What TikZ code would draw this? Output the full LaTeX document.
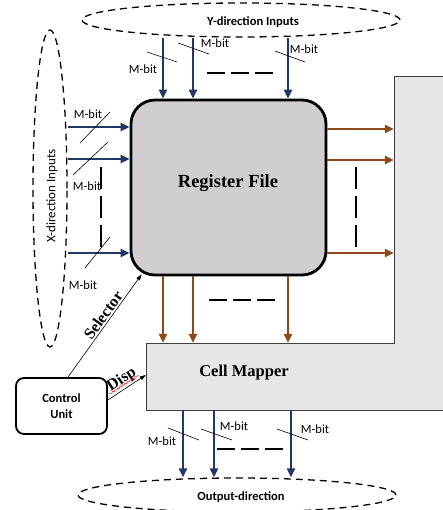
\documentclass[tikz,border=0pt]{standalone}
\usepackage{fontspec}
\setmainfont{Carlito}
\newfontfamily\tnr{Liberation Serif}
\usetikzlibrary{arrows.meta,shapes.geometric,decorations.pathmorphing}
\definecolor{navy}{HTML}{203864}
\definecolor{rust}{HTML}{8E4A1A}
\definecolor{rfgray}{HTML}{D0CECE}
\definecolor{cmgray}{HTML}{E7E6E6}
\definecolor{edgegray}{HTML}{404040}
\begin{document}
\begin{tikzpicture}[x=1pt,y=-1pt,
  barrow/.style={navy, line width=2.6pt, -{Triangle[length=9pt,width=8pt]}},
  brarrow/.style={rust, line width=2.2pt, -{Triangle[length=9pt,width=8pt]}},
  slash/.style={black, line width=0.6pt},
  mbit/.style={font=\fontsize{12.5}{13}\selectfont, inner sep=0pt},
  sepline/.style={line width=2.2pt, dash pattern=on 18pt off 6pt},
  sepvline/.style={line width=2.2pt, dash pattern=on 22pt off 7pt},
  dell/.style={ellipse, draw, line width=1.3pt, dash pattern=on 7pt off 5pt, inner sep=0pt},
  sanslbl/.style={font=\bfseries\fontsize{12.5}{13}\selectfont, inner sep=0pt},
  seriflbl/.style={font=\tnr\bfseries\fontsize{16}{17}\selectfont},
  thinarrow/.style={black, line width=0.6pt, -{Triangle[length=6pt,width=4pt]}}
]
\useasboundingbox (0,0) rectangle (442,510);

% L-shaped panel (right column + Cell Mapper)
\draw[fill=cmgray, draw=edgegray, line width=1pt]
  (448,77) -- (394,77) -- (394,343) -- (146,343) -- (146,410) -- (448,410) -- cycle;
\node[minimum width=302pt, minimum height=67pt, inner sep=0pt] (cm) at (297,376.5) {};
\node[minimum width=54pt, minimum height=266pt, inner sep=0pt] (rp) at (421,210) {};
\node[seriflbl, font=\tnr\bfseries\fontsize{16.5}{17}\selectfont] (cmlbl) at (244,373) {Cell Mapper};

% Register file
\node[draw, line width=2.8pt, fill=rfgray, rounded corners=24pt,
      minimum width=195pt, minimum height=175pt, inner sep=0pt] (rf) at (228.5,187.5) {};
\node[font=\tnr\bfseries\fontsize{18.5}{19}\selectfont] (rflbl) at (228,183) {Register File};

% Dashed ellipses
\node[dell, minimum width=318pt, minimum height=34pt] (yin) at (241,20) {};
\node[sanslbl] (yinlbl) at (253,22) {Y-direction Inputs};
\node[dell, minimum width=34pt, minimum height=317pt] (xin) at (50,188.5) {};
\node[font=\fontsize{13}{13}\selectfont, inner sep=0pt, rotate=90] (xinlbl) at (52,196) {X-direction Inputs};
\node[dell, minimum width=318pt, minimum height=34pt] (out) at (237,495) {};
\node[sanslbl] (outlbl) at (241,497) {Output-direction};

% Control unit
\node[draw, line width=1.8pt, rounded corners=8pt, minimum width=91pt, minimum height=56pt,
      align=center, font=\bfseries\fontsize{12.5}{16}\selectfont] (cu) at (61.5,406) {Control\\Unit};

% Y-direction input arrows
\foreach \x in {163,193,288}
  \draw[barrow] (yin.south -| \x,0) -- (rf.north -| \x,0);
\draw[slash] (147,52) -- (177,62);
\node[mbit] (my1) at (143,69) {M-bit};
\draw[slash] (178,43) -- (209,54);
\node[mbit] (my2) at (215,43) {M-bit};
\draw[slash] (275,51) -- (305,62);
\node[mbit] (my3) at (304,49) {M-bit};
\draw[sepline] (207,73) -- (273,73);

% X-direction input arrows
\foreach \y in {127,159,253}
  \draw[barrow] (xin.east |- 0,\y) -- (rf.west |- 0,\y);
\draw[slash] (80,143) -- (110,112);
\node[mbit] (mx1) at (88,114) {M-bit};
\draw[slash] (73,175) -- (108,142);
\node[mbit] (mx2) at (87,186) {M-bit};
\draw[slash] (85,268) -- (110,237);
\node[mbit] (mx3) at (83,285) {M-bit};
\draw[sepvline] (101,167) -- (101,247);

% Outputs to the right
\foreach \y in {129,160,253}
  \draw[brarrow] (rf.east |- 0,\y) -- (rp.west |- 0,\y);
\draw[sepvline] (356,167) -- (356,247);

% Outputs downward to Cell Mapper
\foreach \x in {163,193,288}
  \draw[brarrow] (rf.south -| \x,0) -- (cm.north -| \x,0);
\draw[sepline] (209,300) -- (275,300);

% Cell Mapper outputs
\foreach \x in {183,214,291}
  \draw[barrow] (cm.south -| \x,0) -- (out.north -| \x,0);
\draw[slash] (168,428) -- (199,440);
\node[mbit] (mo1) at (162,441) {M-bit};
\draw[slash] (201,429) -- (232,440);
\node[mbit] (mo2) at (234,426) {M-bit};
\draw[slash] (277,429) -- (308,440);
\node[mbit] (mo3) at (315,429) {M-bit};
\draw[sepline] (217,449) -- (283,449);

% Control signals
\draw[thinarrow] (cu.north -| 68,0) -- ([shift={(12,-2)}]rf.south west)
  node[seriflbl, pos=0.56, sloped, above, inner sep=1.5pt] (sellbl) {Selector};
\draw[thinarrow] (cu.east |- 0,400) -- (cm.west |- 0,375)
  node[seriflbl, pos=0.5, sloped, above, inner sep=1.5pt] (displbl) {Disp};
\draw[red, line width=0.5pt, decorate, decoration={snake, amplitude=0.7pt, segment length=3pt}]
  ([yshift=-1.5pt]displbl.base west) -- ([yshift=-1.5pt]displbl.base east);
\end{tikzpicture}
\end{document}
